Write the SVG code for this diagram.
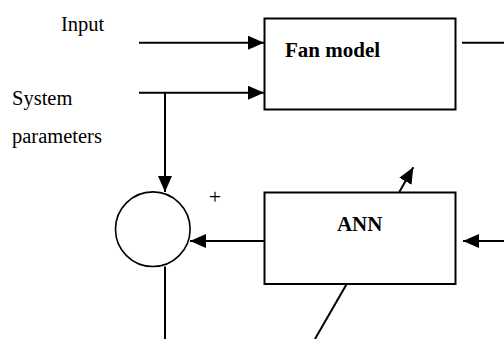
<svg xmlns="http://www.w3.org/2000/svg" width="504" height="339" viewBox="0 0 504 339">
<defs>
<style>
.t{font-family:"Liberation Serif","Times New Roman",serif;font-size:20.5px;fill:#000}
.b{font-weight:bold;font-size:21px}
.p{font-size:22px}
.box{fill:#fff;stroke:#000;stroke-width:2}
.ln{fill:none;stroke:#000;stroke-width:2}
.arr{marker-end:url(#ah)}
</style>
<marker id="ah" markerUnits="userSpaceOnUse" markerWidth="17" markerHeight="15" refX="16" refY="7" orient="auto" viewBox="0 0 17 15">
<path d="M0,0 L16,7 L0,14 z" fill="#000"/>
</marker>
</defs>
<rect width="504" height="339" fill="#fff"/>
<g id="connectors">
<line class="ln arr" x1="139" y1="42.7" x2="264" y2="42.7"/>
<line class="ln arr" x1="139" y1="92.7" x2="264" y2="92.7"/>
<line class="ln arr" x1="165" y1="92.7" x2="165" y2="192"/>
<line class="ln" x1="462" y1="42.7" x2="504" y2="42.7"/>
<line class="ln arr" x1="264" y1="241" x2="190" y2="241"/>
<line class="ln arr" x1="504" y1="241" x2="463" y2="241"/>
<line class="ln arr" x1="399.3" y1="192" x2="413.3" y2="167.3"/>
<line class="ln" x1="346.7" y1="284" x2="315" y2="339"/>
<line class="ln" x1="165" y1="266.5" x2="165" y2="339"/>
</g>
<g id="input-label"><text class="t" x="61" y="31">Input</text></g>
<g id="system-label"><text class="t" x="12" y="105">System</text><text class="t" x="12" y="143">parameters</text></g>
<g id="fan-model"><rect class="box" x="264.5" y="18.5" width="191" height="91"/><text class="t b" x="285" y="57">Fan model</text></g>
<g id="sum"><circle cx="152.8" cy="229.2" r="37.3" fill="#fff" stroke="#000" stroke-width="1.6"/><text class="t p" x="215" y="204" text-anchor="middle">+</text></g>
<g id="ann"><rect class="box" x="264.5" y="192.5" width="191" height="91.5"/><text class="t b" x="359.7" y="230.7" text-anchor="middle">ANN</text></g>
</svg>
